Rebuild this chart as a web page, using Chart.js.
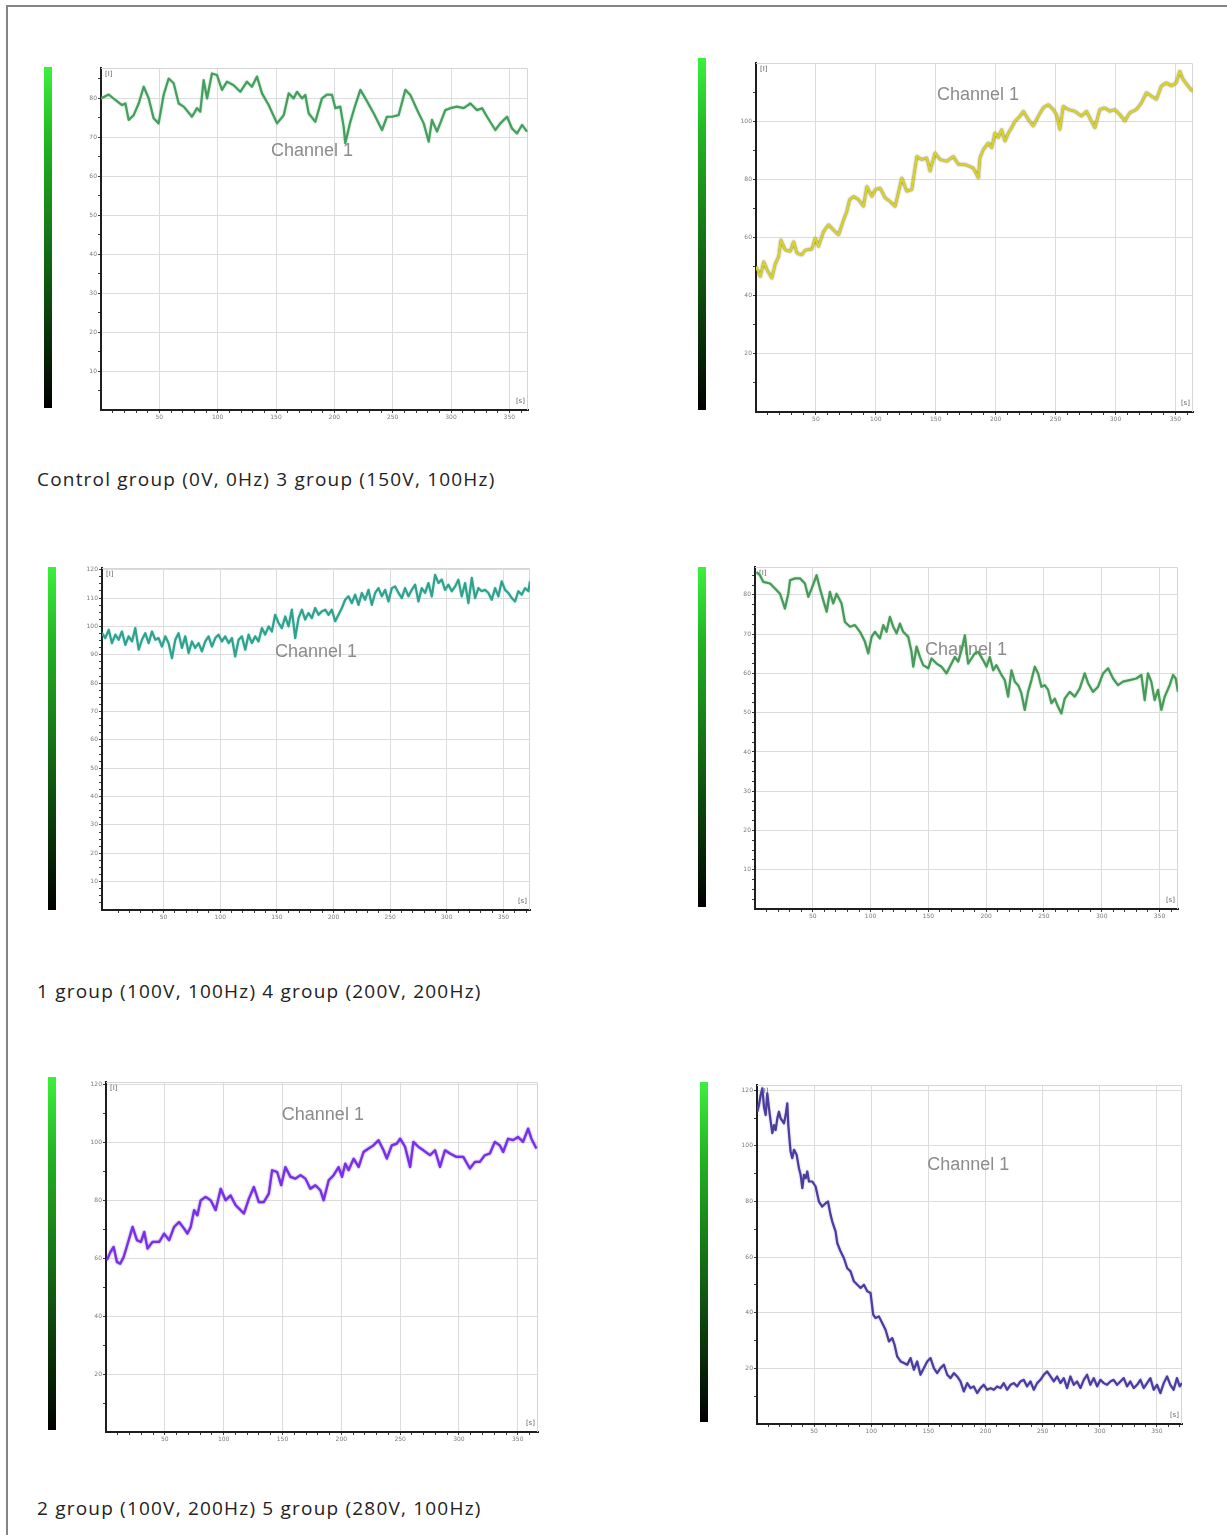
<!DOCTYPE html>
<html>
<head>
<meta charset="utf-8">
<title>Channel 1 recordings</title>
<script src="https://cdn.jsdelivr.net/npm/chart.js@4.4.1/dist/chart.umd.min.js"></script>
<style>
    html, body {
        margin: 0;
        padding: 0;
        background: #fff;
    }
    body {
        position: relative;
        width: 1227px;
        height: 1535px;
        overflow: hidden;
        font-family: "Open Sans", "Noto Sans", sans-serif;
    }
    .frame {
        position: absolute;
        left: 6px;
        top: 5px;
        width: 1400px;
        height: 1700px;
        border-top: 2px solid #858585;
        border-left: 2px solid #858585;
    }
    .bar {
        position: absolute;
        width: 8px;
        background: linear-gradient(to bottom, #3cf03c 0%, #22b422 22%, #177a17 48%, #0c420c 72%, #000 100%);
    }
    .caption {
        position: absolute;
        left: 37px;
        font-size: 19px;
        letter-spacing: 1.2px;
        color: #222;
        white-space: nowrap;
        line-height: 24px;
    }
    canvas {
        position: absolute;
    }
</style>
</head>
<body>
<div class="frame"></div>

<script>
// ===== Data =====
const xTickLabels = [50, 100, 150, 200, 250, 300, 350];

const captions = [
    'Control group (0V, 0Hz) 3 group (150V, 100Hz)',
    '1 group (100V, 100Hz) 4 group (200V, 200Hz)',
    '2 group (100V, 200Hz) 5 group (280V, 100Hz)'
];

// Control group
const ctrlYTicks = [10, 20, 30, 40, 50, 60, 70, 80];
const ctrlTime = [0, 6.6, 12.3, 18, 20.9, 23.7, 28, 32.3, 36.6, 40.9, 45.1, 49.4, 53.7, 58, 62.3, 66.6, 70.9, 78, 82.3, 85.1,
    88, 90.9, 95.1, 99.4, 103.7, 108, 113.7, 119.4, 125.1, 129.4, 133.7, 138, 143.7, 150.9, 156.6, 160.9, 165.1, 168, 172.3, 175.1,
    178, 183.7, 189.4, 193.7, 198, 200.9, 205.1, 208, 209.4, 213.7, 218, 222.3, 226.6, 233.7, 240.9, 245.1, 249.4, 255.1, 260.9, 265.1,
    272.3, 276.6, 280.9, 283.7, 288, 295.1, 299.4, 305.1, 310.9, 316.6, 322.3, 326.6, 330.9, 338, 342.3, 348, 352.3, 356.6, 360.9, 365.1];
const ctrlValue = [79.9, 80.9, 79.5, 78.2, 78.6, 74.4, 75.6, 78.6, 82.9, 79.9, 74.8, 73.5, 80.8, 85.0, 83.8, 78.6, 77.8, 75.2, 77.4, 76.5,
    84.6, 79.9, 86.3, 85.9, 82.1, 84.2, 83.3, 81.6, 84.2, 82.9, 85.5, 81.2, 78.2, 73.5, 75.6, 81.2, 79.9, 81.6, 79.9, 80.8,
    76.1, 73.9, 79.9, 80.9, 80.8, 77.4, 77.8, 72.6, 68.4, 73.9, 78.2, 82.1, 79.9, 76.1, 71.8, 75.2, 75.2, 75.6, 82.1, 80.8,
    76.1, 73.5, 68.8, 74.4, 71.4, 76.9, 77.4, 77.8, 77.4, 78.6, 76.9, 77.4, 75.2, 71.8, 73.5, 75.2, 72.2, 70.9, 73.1, 71.4];

// 3 group (150V, 100Hz)
const g3YTicks = [20, 40, 60, 80, 100, 120];
const g3Time = [0, 3.6, 6.4, 9.2, 13.3, 16.1, 18.9, 20.8, 24.4, 28.6, 31.4, 34.2, 38.3, 41.1, 46.7, 49.4, 52.2, 56.4, 60.6, 64.7,
    68.9, 73.1, 75.8, 78.1, 81.4, 85.6, 89.7, 92.5, 96.7, 99.4, 103.6, 107.8, 111.9, 116.1, 121.7, 125.8, 130, 134.2, 138.3, 142.5,
    145.3, 149.4, 153.6, 159.2, 164.7, 168.9, 174.4, 181.4, 185.6, 186.9, 189.7, 193.9, 196.7, 199.4, 202.2, 205, 207.8, 210.6, 213.3, 216.1,
    220.3, 223.1, 227.2, 231.4, 235.6, 239.7, 243.9, 248.1, 250.8, 253.6, 256.4, 260.6, 266.1, 271.7, 275.8, 280, 282.8, 286.9, 291.1, 295.3,
    299.4, 303.6, 307.8, 311.9, 317.5, 321.7, 325.8, 330, 334.2, 338.3, 342.5, 346.7, 350.8, 353.6, 356.4, 360.6, 364.2];
const g3Value = [50, 46.6, 51.7, 48.9, 46, 51.1, 53.4, 59.2, 55.7, 55.2, 58.6, 54.6, 54, 55.7, 56, 59.8, 56.9, 62.1, 64.4, 62.6,
    60.9, 66.1, 69, 73, 74.1, 73, 70.7, 77.6, 74.1, 76.4, 77, 73.6, 72.4, 70.7, 80.5, 75.9, 76.4, 87.9, 86.8, 87.4,
    82.8, 89.1, 86.8, 86.2, 87.9, 85.1, 85.1, 83.9, 80.5, 87.4, 90.2, 92.5, 90.8, 96, 94.3, 97.1, 93.1, 96, 97.7, 100,
    101.7, 103.4, 100.6, 98.3, 101.7, 104.6, 105.7, 104, 102.3, 97.1, 105.2, 104, 103.4, 101.7, 103.4, 100, 97.7, 104, 104.6, 103.4,
    104, 102.3, 100, 102.9, 104, 106.3, 109.8, 108.6, 107.5, 112.1, 113.2, 112.1, 113.2, 117.2, 114.4, 112.1, 110.3];

// 1 group (100V, 100Hz)
const g1YTicks = [10, 20, 30, 40, 50, 60, 70, 80, 90, 100, 110, 120];
const g1Time = [-4.4, -1.5, 1.5, 4.4, 7.4, 10.3, 13.2, 16.2, 19.1, 22.1, 25.0, 28.0, 30.9, 33.8, 36.8, 39.7, 42.7, 45.6, 48.5, 51.5,
    54.4, 57.4, 60.3, 63.2, 66.2, 69.1, 72.1, 75.0, 77.9, 80.9, 83.8, 86.8, 89.7, 92.7, 95.6, 98.5, 101.5, 104.4, 107.4, 110.3,
    113.2, 116.2, 119.1, 122.1, 125.0, 127.9, 130.9, 133.8, 136.8, 139.7, 142.7, 145.6, 148.5, 151.5, 154.4, 157.4, 160.3, 163.2, 166.2, 169.1,
    172.1, 175.0, 177.9, 180.9, 183.8, 186.8, 189.7, 192.7, 195.6, 198.5, 201.5, 204.4, 207.4, 210.3, 213.2, 216.2, 219.1, 222.1, 225.0, 227.9,
    230.9, 233.8, 236.8, 239.7, 242.7, 245.6, 248.5, 251.5, 254.4, 257.4, 260.3, 263.2, 266.2, 269.1, 272.1, 275.0, 277.9, 280.9, 283.8, 286.8,
    289.7, 292.7, 295.6, 298.5, 301.5, 304.4, 307.4, 310.3, 313.2, 316.2, 319.1, 322.1, 325.0, 327.9, 330.9, 333.8, 336.8, 339.7, 342.7, 345.6,
    348.5, 351.5, 354.4, 357.4, 360.3, 363.2, 366.2, 369.1, 372.1, 373.5];
const g1Value = [97.6, 95.9, 98.8, 94.1, 97.1, 95.3, 98.2, 93.5, 96.5, 94.7, 99.4, 91.8, 95.3, 97.6, 94.1, 98.2, 95.3, 95.9, 92.9, 96.5,
    94.1, 88.8, 95.3, 97.6, 92.4, 96.5, 90.6, 94.7, 92.4, 94.1, 91.2, 94.7, 96.5, 92.9, 95.9, 97.1, 94.7, 96.5, 94.1, 95.9,
    89.4, 95.3, 96.5, 91.8, 97.1, 94.1, 96.5, 94.7, 99.4, 97.1, 100, 98.2, 104.1, 101.2, 99.4, 103.5, 100, 105.9, 95.9, 102.9,
    105.9, 102.4, 104.7, 102.9, 106.5, 104.1, 105.3, 105.9, 104.1, 105.9, 101.8, 104.1, 106.5, 109.4, 110.6, 108.2, 111.2, 107.6, 111.8, 109.4,
    112.9, 107.6, 111.8, 113.5, 110.6, 112.9, 108.8, 113.5, 114.1, 111.8, 110, 113.5, 110.6, 112.9, 114.7, 108.8, 113.5, 111.8, 115.3, 110.6,
    118.2, 115.3, 116.5, 112.9, 114.7, 112.4, 114.1, 116.5, 110.6, 115.3, 108.2, 117.1, 110, 113.5, 112.4, 112.9, 111.8, 109.4, 113.5, 110.6,
    115.9, 112.9, 111.8, 110, 108.8, 112.4, 111.2, 113.5, 112.4, 115.9];

// 4 group (200V, 200Hz)
const g4YTicks = [10, 20, 30, 40, 50, 60, 70, 80];
const g4Time = [1.4, 4.3, 7.2, 13, 17.3, 21.6, 24.5, 25.9, 28.8, 30.3, 34.6, 38.9, 43.2, 46.1, 49, 53.3, 56.2, 59.1, 62, 64.8,
    67.7, 70.6, 74.9, 77.8, 82.1, 86.5, 90.8, 95.1, 98, 100.9, 103.7, 108.1, 111, 113.8, 116.7, 119.6, 122.5, 125.4, 128.2, 132.6,
    135.4, 136.9, 139.8, 142.7, 145.5, 149.9, 152.7, 157.1, 161.4, 165.7, 168.6, 172.9, 175.8, 178.7, 181.6, 184.4, 187.3, 190.2, 193.1, 197.4,
    200.3, 203.2, 206.1, 208.9, 213.3, 216.1, 219, 221.9, 224.8, 227.7, 230.5, 233.4, 236.3, 239.2, 242.1, 245, 247.8, 250.7, 253.6, 256.5,
    259.4, 262.2, 265.1, 268, 272.3, 276.7, 281, 285.3, 288.2, 292.5, 296.8, 301.2, 305.5, 309.8, 314.1, 318.4, 324.2, 330, 334.3, 337.2,
    340, 342.9, 345.8, 348.7, 351.6, 354.5, 358.8, 361.7, 364, 366];
const g4Value = [85.8, 85, 83.3, 82.9, 81.6, 80.3, 77.8, 76.5, 80.3, 83.7, 84.2, 84.2, 82.9, 79.5, 81.6, 85, 81.6, 78.6, 75.7, 80.8,
    77.8, 80.3, 77.8, 73.1, 71.9, 72.3, 70.6, 68.1, 65.1, 69.3, 70.6, 68.9, 72.3, 70.6, 74.4, 71.9, 70.2, 72.7, 70.6, 69.3,
    65.5, 61.7, 66.8, 64.2, 62.1, 61.3, 63.8, 62.5, 61.7, 60, 61.7, 64.2, 63, 65.9, 69.7, 62.5, 63.8, 65.1, 65.5, 63.4,
    61.7, 64.2, 60.8, 62.1, 59.6, 58.3, 54.1, 60.8, 57.9, 57, 54.9, 50.7, 55.3, 58.3, 61.7, 60, 56.6, 57, 55.8, 52.4,
    53.6, 51.5, 49.8, 53.6, 55.3, 54.1, 56.2, 60, 57.5, 55.3, 56.6, 60, 61.3, 58.7, 57, 57.9, 58.3, 58.7, 59.6, 53.2,
    60, 57.9, 53.2, 55.8, 50.7, 54.1, 57, 59.6, 58.7, 55.3];

// 2 group (100V, 200Hz)
const g2YTicks = [20, 40, 60, 80, 100, 120];
const g2Time = [0.8, 3.7, 6.5, 9.3, 12.1, 15, 18.4, 22.6, 26.3, 29.7, 32.5, 35.3, 39.5, 45.2, 49.4, 53.7, 57.9, 62.1, 66.4, 69.2,
    72, 74.9, 77.7, 80.5, 84.7, 89, 93.2, 97.5, 101.7, 105.9, 110.2, 114.4, 117.2, 121.5, 125.7, 129.9, 134.2, 138.4, 141.2, 145.5,
    148.9, 152.5, 156.8, 161, 165.3, 169.5, 173.7, 178, 182.2, 185, 189.3, 193.5, 197.7, 200.6, 203.4, 206.2, 210.5, 214.7, 218.9, 223.2,
    227.4, 231.6, 235.9, 238.7, 242.9, 247.2, 250, 254.2, 258.5, 261.3, 265.5, 269.8, 275.4, 279.7, 283.9, 288.1, 292.4, 298, 303.7, 309.3,
    313.6, 317.8, 322, 326.3, 330.5, 334.7, 337.6, 341.8, 346, 350.3, 354.5, 358.8, 361.6, 365.8];
const g2Value = [59.4, 62.2, 64, 58.8, 58.2, 60.5, 65.1, 70.9, 66.3, 65.7, 69.2, 63.4, 65.7, 65.7, 68.6, 66.3, 70.9, 72.6, 70.3, 68.6,
    70.9, 76.7, 74.9, 80.1, 81.3, 80.1, 76.7, 84.1, 80.1, 81.8, 78.4, 76.7, 75.5, 80.7, 84.7, 79.5, 79.5, 82.4, 90.5, 89.9,
    85.3, 91.6, 88.2, 87.6, 88.8, 87.6, 84.1, 85.3, 83.6, 80.1, 87, 88.8, 91.6, 88.2, 92.8, 90.5, 94.5, 91.6, 96.8, 98,
    99.1, 100.9, 97.4, 94.5, 99.1, 99.7, 101.4, 98.6, 91.6, 100.3, 98.6, 97.4, 95.7, 97.4, 91.6, 97.4, 96.3, 95.1, 95.1, 91.1,
    93.4, 93.4, 95.7, 96.3, 100.3, 99.1, 96.8, 101.4, 100.9, 102, 100.3, 104.9, 101.4, 98];

// 5 group (280V, 100Hz)
const g5YTicks = [20, 40, 60, 80, 100, 120];
const g5Time = [0.3, 1.7, 3.2, 4.7, 6.1, 7.6, 9, 10.5, 12, 13.4, 14.9, 16.3, 17.8, 19.2, 20.7, 23.6, 25.1, 26.5, 27.4, 28.6,
    29.4, 30.9, 32.4, 34.7, 36.7, 38.2, 39.7, 41.1, 42.6, 44, 45.5, 48.4, 51.3, 54.2, 57.1, 60.1, 62.1, 64.4, 65.9, 68.8,
    70.3, 73.2, 76.1, 79, 81.9, 84.8, 87.8, 90.7, 93.6, 96.5, 99.4, 101.7, 103.8, 106.7, 109.6, 112.5, 115.5, 118.4, 120.4, 122.7,
    125.7, 128.6, 131.5, 134.4, 137.3, 140.2, 143.1, 146.1, 149, 151.9, 154.8, 157.7, 160.6, 163.6, 166.5, 169.4, 172.3, 175.2, 178.1, 181,
    184, 186.9, 189.8, 192.7, 195.6, 198.5, 201.5, 204.4, 207.3, 210.2, 213.1, 216, 218.9, 221.9, 224.8, 227.7, 230.6, 233.5, 236.4, 239.4,
    242.3, 245.2, 248.1, 251, 253.9, 256.9, 259.8, 262.7, 265.6, 268.5, 271.4, 274.3, 277.3, 280.2, 283.1, 286, 288.9, 291.8, 294.8, 297.7,
    300.6, 303.5, 306.4, 309.3, 312.2, 315.2, 318.1, 321, 323.9, 326.8, 329.7, 332.7, 335.6, 338.5, 341.4, 344.3, 347.2, 350.1, 353.1, 356,
    358.9, 361.8, 364.7, 367.6, 370, 372];
const g5Value = [112.3, 114.7, 118.3, 120.7, 114.1, 111.1, 118.9, 113.5, 108.7, 104.6, 107.5, 105.7, 109.9, 112.3, 109.9, 108.1, 111.1, 115.3, 107.5, 101.6,
    98, 95.6, 98.6, 96.8, 92, 89.6, 84.8, 89.6, 88.4, 90.8, 87.2, 87.2, 85.4, 80, 78.2, 79.4, 80, 75.2, 72.8, 69.2,
    65, 62, 59.6, 56, 54.9, 51.3, 50.1, 48.9, 50.1, 47.7, 47.1, 39.3, 38.1, 38.7, 36.3, 33.9, 29.7, 30.9, 28.5, 24.3,
    22.5, 21.9, 21.3, 23.7, 19.5, 22.5, 17.7, 20.1, 22.5, 23.7, 20.1, 18.3, 20.1, 21.3, 17.7, 16.5, 18.3, 17.1, 15.3, 11.7,
    14.7, 12.9, 13.5, 11.1, 12.9, 14.1, 12.3, 12.9, 12.3, 13.5, 12.9, 14.7, 12.3, 14.1, 14.7, 13.5, 15.3, 15.9, 13.5, 15.3,
    12.3, 14.7, 15.9, 17.7, 18.9, 17.1, 15.3, 17.1, 14.7, 16.5, 12.9, 17.1, 14.1, 15.3, 12.9, 15.9, 17.7, 14.1, 16.5, 13.5,
    15.9, 14.7, 14.1, 15.3, 15.9, 14.1, 15.3, 16.5, 13.5, 15.3, 12.9, 14.1, 15.9, 12.9, 14.7, 16.5, 12.3, 14.1, 11.1, 14.7,
    17.1, 14.1, 12.3, 16.5, 13.5, 14.7];

// ===== Layout =====
const Y_AXIS_W = 32;
const X_AXIS_H = 22;
const PAD_T = 5;
const PAD_R = 5;

// plot rect: L, T, R, B in page pixels
const panels = [
    { time: ctrlTime, value: ctrlValue, yTicks: ctrlYTicks, color: '#479c5f', glow: 'rgba(120,205,140,0.8)', rect: [101, 68, 528, 410],
      x: [0, 366, 10], y: [0, 87.7, 5], bar: [44, 67, 341], label: [0.494, 0.243] },
    { time: g3Time, value: g3Value, yTicks: g3YTicks, color: '#d8d22c', glow: 'rgba(95,90,5,0.95)', rect: [756, 63, 1193, 412],
      x: [0, 364.7, 10], y: [0, 120, 10], bar: [698, 58, 352], label: [0.508, 0.092] },
    { time: g1Time, value: g1Value, yTicks: g1YTicks, color: '#33a08e', glow: 'rgba(110,210,190,0.7)', rect: [102, 568, 530, 910],
      x: [-4.4, 373.5, 10], y: [0, 120.6, 2.5], bar: [48, 567, 343], label: [0.5, 0.246] },
    { time: g4Time, value: g4Value, yTicks: g4YTicks, color: '#4b985a', glow: 'rgba(120,205,140,0.8)', rect: [755, 567, 1178, 909],
      x: [0, 366, 10], y: [0, 87.1, 2.5], bar: [698, 567, 340], label: [0.499, 0.243] },
    { time: g2Time, value: g2Value, yTicks: g2YTicks, color: '#7a2cf0', glow: 'rgba(60,20,140,0.7)', rect: [106, 1082, 538, 1432],
      x: [0, 367.2, 10], y: [0, 121, 10], bar: [48, 1077, 353], label: [0.502, 0.095] },
    { time: g5Time, value: g5Value, yTicks: g5YTicks, color: '#4a3d9c', glow: 'rgba(140,130,220,0.7)', rect: [757, 1085, 1182, 1424],
      x: [0, 372, 10], y: [0, 121.9, 10], bar: [700, 1082, 340], label: [0.497, 0.236] }
];
const captionTops = [467, 979, 1496];

// ===== Decoration plugin: frame, "Channel 1" and unit marks =====
const panelDecor = {
    id: 'panelDecor',
    beforeDatasetsDraw(chart, args, opts) {
        const { ctx, chartArea: a } = chart;
        ctx.save();
        ctx.strokeStyle = '#d6d6d6';
        ctx.lineWidth = 1;
        ctx.beginPath();
        ctx.moveTo(a.left, a.top + 0.5);
        ctx.lineTo(a.right - 0.5, a.top + 0.5);
        ctx.lineTo(a.right - 0.5, a.bottom);
        ctx.stroke();

        ctx.font = '18px "Liberation Sans", Arial, sans-serif';
        ctx.fillStyle = '#8c8c8c';
        ctx.textAlign = 'center';
        ctx.textBaseline = 'middle';
        ctx.fillText('Channel 1', a.left + opts.fx * (a.right - a.left), a.top + opts.fy * (a.bottom - a.top));

        ctx.font = '7px "DejaVu Sans", sans-serif';
        ctx.fillStyle = '#666';
        ctx.textAlign = 'left';
        ctx.fillText('[I]', a.left + 4, a.top + 6);
        ctx.textAlign = 'right';
        ctx.fillText('[s]', a.right - 3, a.bottom - 9);
        ctx.restore();
    },
    // soft halo round the trace, as in the exported pictures
    beforeDatasetDraw(chart, args, opts) {
        const ctx = chart.ctx;
        ctx.save();
        ctx.shadowColor = opts.glow;
        ctx.shadowBlur = 2;
    },
    afterDatasetDraw(chart) {
        chart.ctx.restore();
    }
};

function makeAxis(range, majors, horizontal) {
    const [min, max, minorStep] = range;
    return {
        type: 'linear',
        min: min,
        max: max,
        afterBuildTicks: function(scale) {
            const t = [];
            for (let v = minorStep; v < max; v += minorStep) {
                t.push({ value: +v.toFixed(2) });
            }
            scale.ticks = t;
        },
        afterFit: function(scale) {
            if (horizontal) scale.height = X_AXIS_H;
            else scale.width = Y_AXIS_W;
        },
        grid: {
            color: c => (c.tick && majors.includes(c.tick.value)) ? '#dcdcdc' : 'rgba(0,0,0,0)',
            tickColor: '#3a3a3a',
            tickLength: 3,
            lineWidth: 1
        },
        border: { color: '#1e1e1e', width: 2 },
        ticks: {
            autoSkip: false,
            maxRotation: 0,
            padding: 1,
            color: '#7a7a7a',
            font: { size: 6, family: '"DejaVu Sans", sans-serif' },
            callback: v => majors.includes(v) ? String(v) : ''
        }
    };
}

panels.forEach(function(p, i) {
    const [L, T, R, B] = p.rect;

    const bar = document.createElement('div');
    bar.className = 'bar';
    bar.style.left = p.bar[0] + 'px';
    bar.style.top = p.bar[1] + 'px';
    bar.style.height = p.bar[2] + 'px';
    document.body.appendChild(bar);

    const canvas = document.createElement('canvas');
    canvas.width = (R - L) + Y_AXIS_W + PAD_R;
    canvas.height = (B - T) + PAD_T + X_AXIS_H;
    canvas.style.left = (L - Y_AXIS_W) + 'px';
    canvas.style.top = (T - PAD_T) + 'px';
    document.body.appendChild(canvas);

    new Chart(canvas, {
        type: 'line',
        data: {
            datasets: [{
                data: p.time.map((t, k) => ({ x: t, y: p.value[k] })),
                borderColor: p.color,
                borderWidth: 2.2,
                borderJoinStyle: 'round',
                pointRadius: 0,
                tension: 0,
                fill: false
            }]
        },
        options: {
            responsive: false,
            animation: false,
            parsing: false,
            layout: { padding: { top: PAD_T, right: PAD_R, left: 0, bottom: 0 } },
            plugins: {
                legend: { display: false },
                tooltip: { enabled: false },
                panelDecor: { fx: p.label[0], fy: p.label[1], glow: p.glow }
            },
            scales: {
                x: makeAxis(p.x, xTickLabels, true),
                y: makeAxis(p.y, p.yTicks, false)
            }
        },
        plugins: [panelDecor]
    });
});

captions.forEach(function(text, i) {
    const el = document.createElement('div');
    el.className = 'caption';
    el.style.top = captionTops[i] + 'px';
    el.textContent = text;
    document.body.appendChild(el);
});
</script>
</body>
</html>
